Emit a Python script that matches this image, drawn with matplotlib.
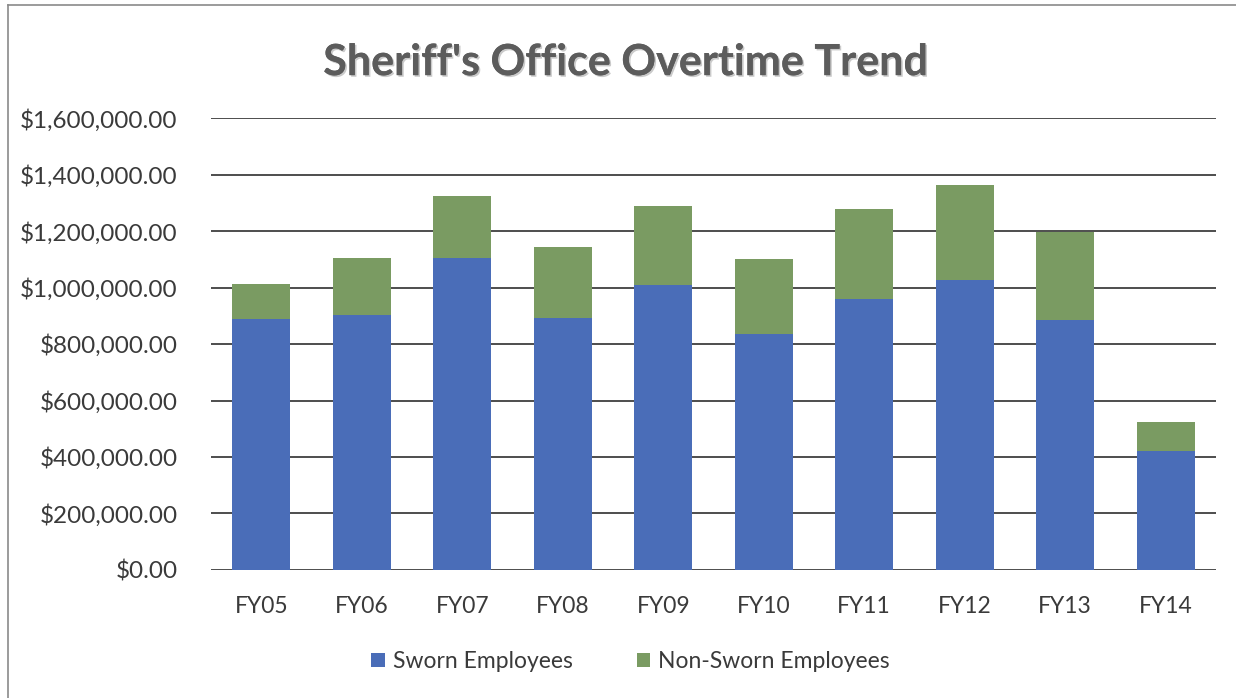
import matplotlib
matplotlib.use("Agg")
import matplotlib.pyplot as plt
from matplotlib.patches import Patch
from matplotlib.lines import Line2D
from matplotlib import patheffects
from matplotlib.ticker import FuncFormatter

years = ["FY05", "FY06", "FY07", "FY08", "FY09", "FY10", "FY11", "FY12", "FY13", "FY14"]
sworn = [888000, 902000, 1106000, 892000, 1008000, 836000, 960000, 1026000, 885000, 422000]
non_sworn = [125000, 201000, 219000, 250000, 282000, 266000, 319000, 336000, 313000, 101000]
y_ticks = [0, 200000, 400000, 600000, 800000, 1000000, 1200000, 1400000, 1600000]

BLUE = "#4a6db8"
GREEN = "#7a9b62"
TEXT = "#3a3a3a"
FONT = "Lato"

fig = plt.figure(figsize=(12.36, 6.98), dpi=100)
ax = fig.add_axes([0.1707, 0.1834, 0.9838 - 0.1707, 0.8309 - 0.1834])

x = list(range(len(years)))
ax.bar(x, sworn, width=0.58, color=BLUE, zorder=3, label="Sworn Employees")
ax.bar(x, non_sworn, width=0.58, bottom=sworn, color=GREEN, zorder=3,
       label="Non-Sworn Employees")

ax.set_xlim(-0.5, len(years) - 0.5)
ax.set_ylim(0, 1600000)
ax.set_yticks(y_ticks)
ax.yaxis.set_major_formatter(FuncFormatter(lambda v, p: f"${v:,.2f}"))
ax.set_xticks(x)
ax.set_xticklabels(years)

for v in y_ticks:
    ax.axhline(v, color="#4d4d4d", lw=1.4, zorder=1)

for s in ax.spines.values():
    s.set_visible(False)
ax.tick_params(axis="y", length=0, pad=24, labelsize=17.5, labelcolor=TEXT)
ax.tick_params(axis="x", length=0, pad=19, labelsize=16.5, labelcolor=TEXT)
for lab in ax.get_xticklabels() + ax.get_yticklabels():
    lab.set_fontfamily(FONT)

title = fig.text(0.506, 0.911, "Sheriff's Office Overtime Trend", ha="center", va="center",
                 fontsize=31, fontweight="bold", color="#5c5c5c", family=FONT)
title.set_path_effects([patheffects.withSimplePatchShadow(offset=(1.2, -1.2),
                                                         shadow_rgbFace="#bdbdbd", alpha=0.8),
                        patheffects.Normal()])

handles = [Patch(facecolor=BLUE, edgecolor="none"), Patch(facecolor=GREEN, edgecolor="none")]
fig.legend(handles, ["Sworn Employees", "Non-Sworn Employees"], loc="center",
           bbox_to_anchor=(0.510, 0.052), ncol=2, frameon=False,
           prop={"family": FONT, "size": 16.5}, labelcolor=TEXT,
           handlelength=0.6, handleheight=0.6, handletextpad=0.35, columnspacing=2.8)

# frame edges of the chart area
fig.add_artist(Line2D([0.0065, 1.0], [0.993, 0.993], color="#8a8a8a", lw=1.2))
fig.add_artist(Line2D([0.0065, 0.0065], [0.0, 0.993], color="#8a8a8a", lw=1.2))

fig.savefig("out.png", dpi=100, facecolor="white")
